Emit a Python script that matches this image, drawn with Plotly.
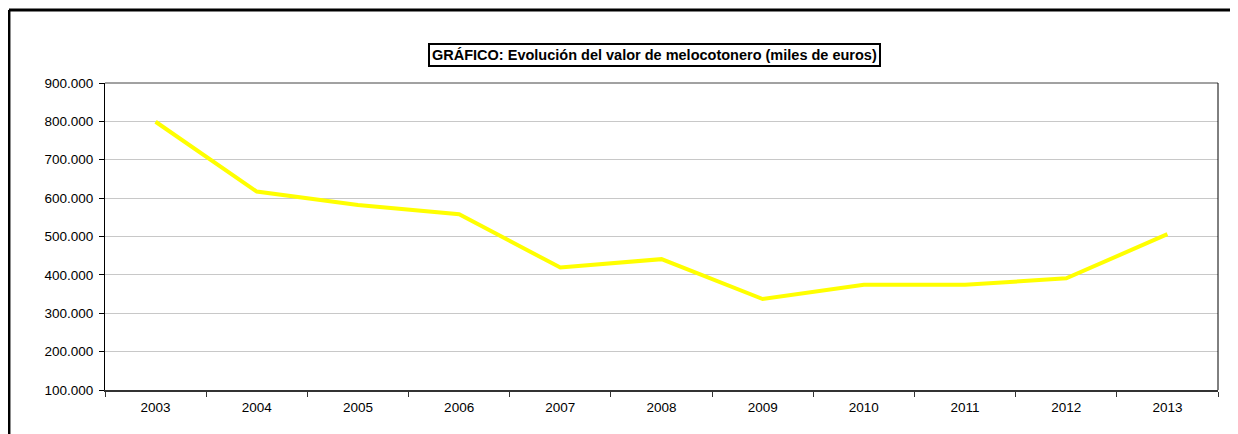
import plotly.graph_objects as go

years = ["2003", "2004", "2005", "2006", "2007", "2008", "2009", "2010", "2011", "2012", "2013"]
valor = [799000, 617000, 582000, 558000, 419000, 441000, 337000, 374000, 374000, 391000, 506000]
titulo = "GRÁFICO: Evolución del valor de melocotonero (miles de euros)"

fig = go.Figure()
fig.add_trace(go.Scatter(x=years, y=valor, mode="lines",
                         line=dict(color="#FFFF00", width=4), showlegend=False))

# page body has an 8px margin, so the figure is laid out from (8, 8)
fig.update_layout(
    width=1230, height=426,
    margin=dict(l=97, r=20, t=75, b=44),
    paper_bgcolor="white", plot_bgcolor="white",
    separators=",.",
    font=dict(family="Arial, Liberation Sans, sans-serif", size=13, color="black"),
    xaxis=dict(type="category", range=[-0.5, 10.5], tickson="boundaries",
               ticks="outside", ticklen=5, ticklabelstandoff=4,
               tickcolor="#333", showline=True, linecolor="#333", linewidth=2,
               mirror=False, showgrid=False, tickfont=dict(size=13.5)),
    yaxis=dict(range=[100000, 900000], dtick=100000, tickformat=",.0f",
               ticks="outside", ticklen=5, tickcolor="black", ticklabelstandoff=3,
               showline=True, linecolor="black", linewidth=1,
               showgrid=True, gridcolor="#c8c8c8", gridwidth=1,
               zeroline=False, tickfont=dict(size=13.5)),
    annotations=[dict(text="<b>" + titulo + "</b>", xref="paper", yref="paper",
                      x=0.4933, y=1.0928, xanchor="center", yanchor="middle",
                      showarrow=False,
                      font=dict(size=14.5, color="black"),
                      bordercolor="black", borderwidth=2, borderpad=2,
                      bgcolor="white")],
    shapes=[
        dict(type="line", xref="paper", yref="paper", x0=0, x1=1, y0=1, y1=1,
             line=dict(color="#444", width=1)),
        dict(type="line", xref="paper", yref="paper", x0=1, x1=1, y0=0, y1=1,
             line=dict(color="black", width=1)),
        # outer chart frame (top and left sides visible; the rest is cut off)
        dict(type="line", xref="paper", yref="paper", x0=-0.0863, x1=1.05,
             y0=1.2378, y1=1.2378, line=dict(color="black", width=3)),
        dict(type="line", xref="paper", yref="paper", x0=-0.0863, x1=-0.0863,
             y0=-0.3, y1=1.2378, line=dict(color="black", width=3)),
    ],
)

fig.write_html("out.html")
